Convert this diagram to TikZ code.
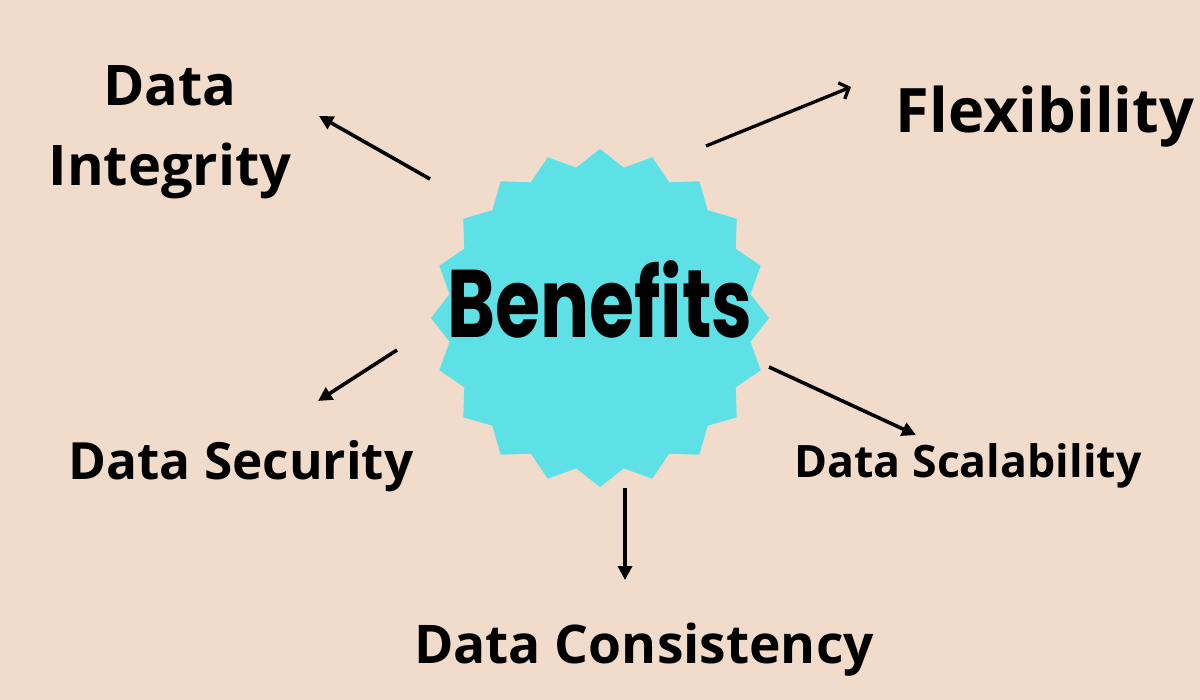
\documentclass[tikz,border=0pt]{standalone}
\usepackage{fontspec}
\usetikzlibrary{arrows.meta,shapes.geometric}
\newfontfamily\labfont{Open Sans}
\newfontfamily\bubfont{Poppins}
\definecolor{bgpeach}{HTML}{F1DCCC}
\definecolor{starcyan}{HTML}{5DE1E6}
\tikzset{
  lab/.style={inner sep=0pt, anchor=base, text=black},
  arr/.style={line width=2.7pt, draw=black, -{Triangle[length=10.5pt,width=10.5pt]}},
  arropen/.style={line width=2.5pt, draw=black, -{Straight Barb[length=6pt,width=13pt,line width=2.5pt]}},
}
\begin{document}
\begin{tikzpicture}[x=0.75pt,y=-0.75pt]
\fill[bgpeach] (0,0) rectangle (1200,700);
\useasboundingbox (0,0) rectangle (1200,700);
% starburst
\node[star, star points=20, star point ratio=1.11, minimum size=253.5pt, inner sep=0pt, fill=starcyan, draw=none] (burst) at (600,318) {};
\node[lab] (benefits) at (600,337) {\scalebox{0.76}[1]{\bubfont\bfseries\fontsize{72}{80}\selectfont Benefits}};
% labels
\node[lab] (integ1) at (170,105) {\labfont\bfseries\fontsize{42}{50}\selectfont Data};
\node[lab] (integ2) at (170,185) {\labfont\bfseries\fontsize{42}{50}\selectfont Integrity};
\node[lab] (flex) at (1045,132) {\labfont\bfseries\fontsize{46}{54}\selectfont Flexibility};
\node[lab] (secu) at (241,479) {\labfont\bfseries\fontsize{38.5}{44}\selectfont Data Security};
\node[lab] (scal) at (968,477) {\labfont\bfseries\fontsize{33.5}{40}\selectfont Data Scalability};
\node[lab] (cons) at (644,663) {\labfont\bfseries\fontsize{40}{48}\selectfont Data Consistency};
% arrow ends
\coordinate (tInteg) at (430,179);
\coordinate (hInteg) at (319,116);
\coordinate (tFlex) at (706,146);
\coordinate (hFlex) at (851,87);
\coordinate (tSecu) at (397,350);
\coordinate (hSecu) at (318,401);
\coordinate (tScal) at (769,367);
\coordinate (hScal) at (916,435);
\coordinate (tCons) at (625,488);
\coordinate (hCons) at (625,580);
\draw[arr] (tInteg) -- (hInteg);
\draw[arropen] (tFlex) -- (hFlex);
\draw[arr] (tSecu) -- (hSecu);
\draw[arr] (tScal) -- (hScal);
\draw[arr] (tCons) -- (hCons);
\end{tikzpicture}
\end{document}
